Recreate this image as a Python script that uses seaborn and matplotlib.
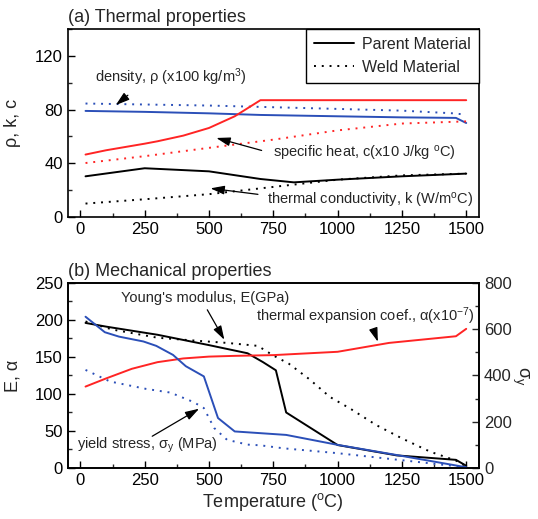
import numpy as np
import pandas as pd
import seaborn as sns
import matplotlib
matplotlib.use("Agg")
import matplotlib.pyplot as plt
from matplotlib.lines import Line2D
from matplotlib.ticker import MultipleLocator

# (a) thermal properties, temperature in oC
rho_pm_T = [20, 250, 500, 700, 1000, 1250, 1460, 1500]
rho_pm = [79, 78.3, 77.2, 76, 75, 74.2, 73.8, 70]
rho_wm_T = [20, 500, 1000, 1250, 1450, 1500]
rho_wm = [84.5, 83, 80.5, 79.2, 77.2, 76.2]

c_pm_T = [20, 100, 250, 300, 400, 500, 600, 650, 700, 1000, 1500]
c_pm = [46.5, 49.7, 54.6, 56.4, 60.6, 66.3, 75, 81, 87, 87, 87]
c_wm_T = [20, 250, 500, 750, 1000, 1250, 1500]
c_wm = [40.2, 45.3, 51.5, 57.6, 64.5, 69.6, 71.2]

k_pm_T = [20, 250, 500, 700, 830, 1000, 1250, 1500]
k_pm = [30.3, 36.3, 34, 28.3, 25.8, 27.8, 30.3, 32.3]
k_wm_T = [20, 250, 500, 750, 1000, 1250, 1500]
k_wm = [10, 13.2, 17, 22.4, 27.8, 31, 32.3]

# (b) mechanical properties
E_pm_T = [20, 100, 300, 500, 650, 710, 760, 800, 1000, 1230, 1460, 1500]
E_pm = [196, 191, 180, 166, 155, 143, 132, 75, 31, 17, 11, 3]
E_wm_T = [20, 125, 300, 450, 570, 690, 750, 810, 890, 970, 1050, 1150, 1250, 1360, 1460, 1500]
E_wm = [198, 187, 176, 172, 169, 165, 152, 141, 120, 96, 80, 58, 40, 22, 10, 2]

a_T = [20, 100, 200, 300, 400, 500, 600, 750, 1000, 1100, 1200, 1460, 1500]
a_pm = [110, 121, 134, 143, 148, 150.5, 151.5, 152.5, 157, 163, 169, 178, 188]

sy_pm_T = [20, 95, 150, 245, 295, 360, 410, 480, 535, 600, 800, 1000, 1230, 1500]
sy_pm = [654, 587, 568, 547, 528, 489, 440, 396, 216, 158, 143, 100, 56, 3]
sy_wm_T = [20, 115, 255, 350, 440, 480, 520, 570, 650, 700, 790, 1000, 1230, 1500]
sy_wm = [424, 374, 342, 326, 285, 259, 173, 122, 101, 98, 85, 64, 36, 3]

red = "#ff2424"
blue = "#2b4fb8"
dot = (0, (1, 3))

sns.set_style("ticks")
plt.rcParams["font.family"] = ["Liberation Sans", "DejaVu Sans"]
plt.rcParams["mathtext.fontset"] = "custom"
plt.rcParams["mathtext.rm"] = "Liberation Sans"
plt.rcParams["mathtext.it"] = "Liberation Sans:italic"
plt.rcParams["axes.edgecolor"] = "black"
plt.rcParams["axes.linewidth"] = 1.2

fig = plt.figure(figsize=(5.38, 5.19), dpi=100)
ax1 = fig.add_axes([0.1255, 0.5819, 0.765, 0.3622])
ax2 = fig.add_axes([0.1255, 0.0983, 0.765, 0.3565])


def line(ax, x, y, color, ls="-"):
    sns.lineplot(x=x, y=y, ax=ax, color=color, lw=1.4, linestyle=ls)


def arrow(ax, text, xy, xytext, tx, ty):
    ax.annotate("", xy=xy, xytext=xytext,
                arrowprops=dict(arrowstyle="-|>,head_length=0.7,head_width=0.22",
                                color="k", lw=0.9, mutation_scale=12))
    ax.text(tx, ty, text, ha="left", va="center", fontsize=10.5)


def style(ax):
    ax.tick_params(direction="in", which="major", length=5, width=1,
                   labelsize=12, colors="k")
    ax.tick_params(direction="in", which="minor", length=3, width=1)
    ax.xaxis.set_major_locator(MultipleLocator(250))
    ax.xaxis.set_minor_locator(MultipleLocator(125))
    ax.set_xlim(-50, 1550)


# ---- (a)
line(ax1, rho_pm_T, rho_pm, blue)
line(ax1, rho_wm_T, rho_wm, blue, dot)
line(ax1, c_pm_T, c_pm, red)
line(ax1, c_wm_T, c_wm, red, dot)
line(ax1, k_pm_T, k_pm, "k")
line(ax1, k_wm_T, k_wm, "k", dot)
style(ax1)
ax1.set_ylim(0, 140)
ax1.yaxis.set_major_locator(MultipleLocator(40))
ax1.yaxis.set_minor_locator(MultipleLocator(20))
ax1.set_ylabel("ρ, k, c", fontsize=13)
ax1.yaxis.set_label_coords(-0.112, 0.5)
ax1.set_title("(a) Thermal properties", loc="left", fontsize=13, pad=5)

arrow(ax1, "density, ρ (x100 kg/m$^3$)", (129, 82), (193, 92), 56, 104.3)
arrow(ax1, "specific heat, c(x10 J/kg $^\\mathrm{o}$C)", (518, 59.4), (715, 49), 748, 47.2)
arrow(ax1, "thermal conductivity, k (W/m$^\\mathrm{o}$C)", (495, 21.6), (701, 16.6), 725, 12.4)

handles = [Line2D([], [], color="k", lw=1.4),
           Line2D([], [], color="k", lw=1.4, linestyle=dot)]
leg = ax1.legend(handles, ["Parent Material", "Weld Material"], loc="upper right",
                 borderaxespad=0, fancybox=False, edgecolor="k", framealpha=1,
                 fontsize=11.5, handlelength=2.5, handletextpad=0.5, borderpad=0.5)
leg.get_frame().set_linewidth(1)

# ---- (b)
line(ax2, E_pm_T, E_pm, "k")
line(ax2, E_wm_T, E_wm, "k", dot)
line(ax2, a_T, a_pm, red)
style(ax2)
ax2.set_ylim(0, 250)
ax2.yaxis.set_major_locator(MultipleLocator(50))
ax2.yaxis.set_minor_locator(MultipleLocator(25))
ax2.set_ylabel("E, α", fontsize=13)
ax2.yaxis.set_label_coords(-0.112, 0.5)
ax2.set_xlabel("Temperature ($^\\mathrm{o}$C)", fontsize=13, labelpad=2)
ax2.set_title("(b) Mechanical properties", loc="left", fontsize=13, pad=5)

ax3 = ax2.twinx()
line(ax3, sy_pm_T, sy_pm, blue)
line(ax3, sy_wm_T, sy_wm, blue, dot)
ax3.set_ylim(0, 800)
ax3.yaxis.set_major_locator(MultipleLocator(200))
ax3.yaxis.set_minor_locator(MultipleLocator(100))
ax3.tick_params(direction="in", which="major", length=5, width=1, labelsize=12)
ax3.tick_params(direction="in", which="minor", length=3, width=1)
ax3.set_ylabel("σ$_\\mathrm{y}$", fontsize=13, rotation=270, va="center")
ax3.yaxis.set_label_coords(1.1, 0.5)

arrow(ax2, "Young's modulus, E(GPa)", (565, 170), (488, 217), 156, 230)
arrow(ax2, "thermal expansion coef., α(x10$^{-7}$)", (1160, 167), (1137, 190), 681, 205.6)
arrow(ax2, "yield stress, σ$_\\mathrm{y}$ (MPa)", (471, 82), (270, 41), -12, 31)

fig.savefig("out.png", dpi=100)
